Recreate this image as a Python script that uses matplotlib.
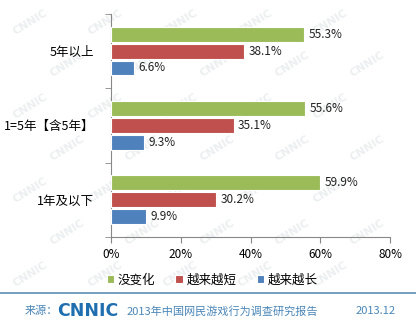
import numpy as np
import matplotlib.pyplot as plt

plt.rcParams['font.family'] = ['Noto Sans CJK SC', 'DejaVu Sans']

# 数据
categories = ['5年以上', '1=5年【含5年】', '1年及以下']
series = ['没变化', '越来越短', '越来越长']
no_change = [55.3, 55.6, 59.9]
shorter = [38.1, 35.1, 30.2]
longer = [6.6, 9.3, 9.9]
xticks = [0, 20, 40, 60, 80]

colors = ['#9BBB59', '#C0504D', '#4F81BD']
values = [no_change, shorter, longer]

W, H = 416, 324
fig = plt.figure(figsize=(W / 100, H / 100), dpi=100)

# 背景水印 CNNIC
for i, yp in enumerate(range(22, 310, 42)):
    shift = 0 if i % 2 == 0 else 37
    for xp in range(30 + shift, 400, 75):
        fig.text(xp / W, 1 - yp / H, 'CNNIC', color='#eceff0', fontsize=8,
                 fontweight='bold', rotation=32, ha='center', va='center',
                 zorder=-1, family='DejaVu Sans')

ax = fig.add_axes([0.267, 0.269, 0.671, 0.688])
ax.patch.set_alpha(0)

ypos = np.arange(len(categories))
h = 0.2
offs = [-0.227, 0.0, 0.227]
for vals, col, off, name in zip(values, colors, offs, series):
    bars = ax.barh(ypos + off, vals, height=h, color=col, label=name,
                   edgecolor='white', linewidth=0.8, zorder=3)
    for b, v in zip(bars, vals):
        ax.text(v + 1.3, b.get_y() + b.get_height() / 2, f'{v}%',
                va='center', ha='left', fontsize=8.5, color='#222222')

ax.set_ylim(2.5, -0.5)
ax.set_xlim(0, 80)
ax.set_xticks(xticks)
ax.set_xticklabels([f'{t}%' for t in xticks], fontsize=8.5)
ax.set_yticks(ypos)
ax.set_yticklabels(categories, fontsize=9)
ax.tick_params(axis='y', length=0, pad=12)
ax.set_yticks([-0.5, 0.5, 1.5, 2.5], minor=True)
ax.tick_params(axis='y', which='minor', length=4, color='#888888')
ax.tick_params(axis='x', length=4, color='#888888', pad=4)
for s in ['top', 'right']:
    ax.spines[s].set_visible(False)
ax.spines['left'].set_color('#888888')
ax.spines['bottom'].set_color('#888888')

fig.legend(loc='center', bbox_to_anchor=(0.51, 0.135), ncol=3,
           frameon=False, fontsize=9, handlelength=0.6, handleheight=0.6,
           handletextpad=0.3, columnspacing=1.6)

# 页脚
fig.add_artist(plt.Line2D([0, 1], [0.096, 0.096], color='#5b8fb5', linewidth=1.2))
fig.text(0.06, 0.04, '来源：', color='#4a86b8', fontsize=8, va='center')
fig.text(0.137, 0.04, 'CNNIC', color='#1f6fb0', fontsize=12.5, fontweight='bold',
         va='center', family='DejaVu Sans')
fig.text(0.305, 0.04, '2013年中国网民游戏行为调查研究报告', color='#4a86b8',
         fontsize=8, va='center')
fig.text(0.95, 0.04, '2013.12', color='#4a86b8', fontsize=8, va='center',
         ha='right')

fig.savefig('out.png', dpi=100)
